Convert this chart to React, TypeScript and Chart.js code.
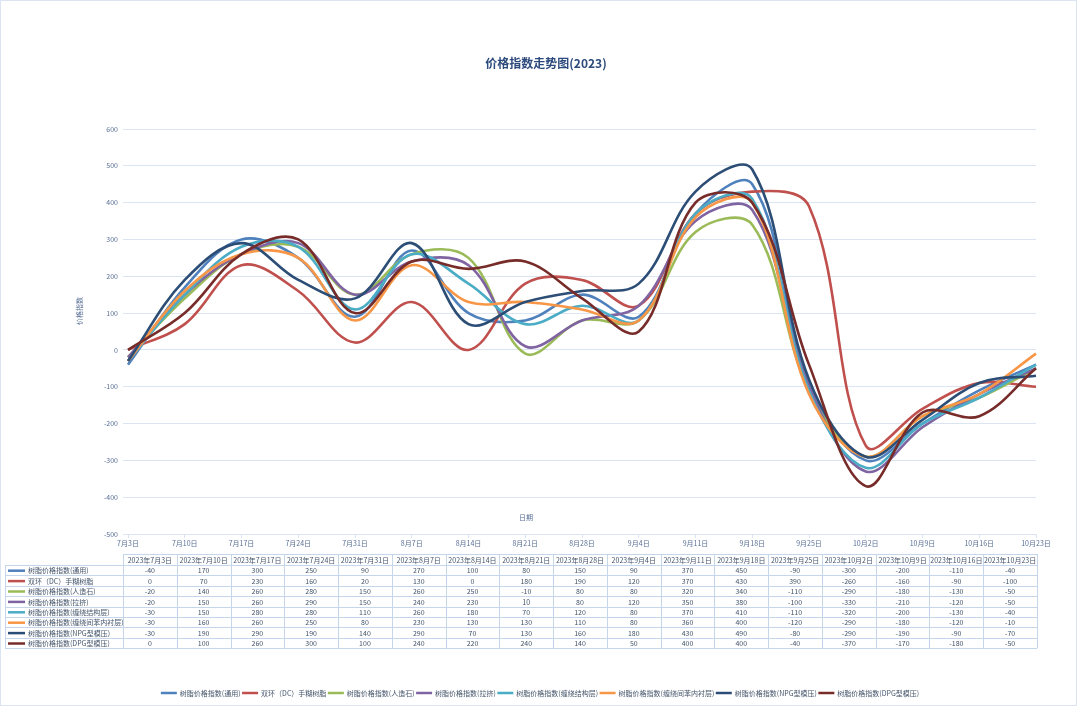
import React, { useEffect, useRef } from "react";
import { Chart, registerables } from "chart.js";

Chart.register(...registerables);

const chartTitle = "价格指数走势图(2023)";
const yTitle = "价格指数";
const xTitle = "日期";

const categories = [
  "7月3日", "7月10日", "7月17日", "7月24日", "7月31日", "8月7日", "8月14日", "8月21日",
  "8月28日", "9月4日", "9月11日", "9月18日", "9月25日", "10月2日", "10月9日", "10月16日", "10月23日",
];
const tableHeaders = categories.map((c) => "2023年" + c);

const seriesNames = [
  "树脂价格指数(通用)",
  "双环（DC）手糊树脂",
  "树脂价格指数(人造石)",
  "树脂价格指数(拉挤)",
  "树脂价格指数(缠绕结构层)",
  "树脂价格指数(缠绕间苯内衬层)",
  "树脂价格指数(NPG型模压)",
  "树脂价格指数(DPG型模压)",
];

const generalValues = [-40, 170, 300, 250, 90, 270, 100, 80, 150, 90, 370, 450, -90, -300, -200, -110, -40];
const dcValues = [0, 70, 230, 160, 20, 130, 0, 180, 190, 120, 370, 430, 390, -260, -160, -90, -100];
const stoneValues = [-20, 140, 260, 280, 150, 260, 250, -10, 80, 80, 320, 340, -110, -290, -180, -130, -50];
const pultrusionValues = [-20, 150, 260, 290, 150, 240, 230, 10, 80, 120, 350, 380, -100, -330, -210, -120, -50];
const windingStructValues = [-30, 150, 280, 280, 110, 260, 180, 70, 120, 80, 370, 410, -110, -320, -200, -130, -40];
const windingLinerValues = [-30, 160, 260, 250, 80, 230, 130, 130, 110, 80, 360, 400, -120, -290, -180, -120, -10];
const npgValues = [-30, 190, 290, 190, 140, 290, 70, 130, 160, 180, 430, 490, -80, -290, -190, -90, -70];
const dpgValues = [0, 100, 260, 300, 100, 240, 220, 240, 140, 50, 400, 400, -40, -370, -170, -180, -50];

const seriesValues = [
  generalValues, dcValues, stoneValues, pultrusionValues,
  windingStructValues, windingLinerValues, npgValues, dpgValues,
];

const seriesColors = ["#4f81bd", "#c0504d", "#9bbb59", "#8064a2", "#4bacc6", "#f79646", "#2c4d75", "#772c2a"];

const yTicks = { min: -500, max: 600, step: 100 };

const FONT = '"Noto Sans CJK SC", "Noto Sans", sans-serif';
const GRID = "#dbe5f1";
const TABLE_BORDER = "#c6d6ea";
const AXIS_TEXT = "#5a6f96";
const TABLE_TEXT = "#44546a";

const decorPlugin = {
  id: "decor",
  afterDraw(chart: any) {
    const ctx: CanvasRenderingContext2D = chart.ctx;
    ctx.save();

    // chart area border
    ctx.strokeStyle = GRID;
    ctx.lineWidth = 1;
    ctx.strokeRect(0.5, 0.5, 1076, 705);

    // title
    ctx.fillStyle = "#2c4a7c";
    ctx.font = `bold 12px ${FONT}`;
    ctx.textAlign = "center";
    ctx.textBaseline = "middle";
    ctx.fillText(chartTitle, 546, 63);

    // y title
    ctx.save();
    ctx.translate(79, 311);
    ctx.rotate(-Math.PI / 2);
    ctx.font = `7px ${FONT}`;
    ctx.fillStyle = AXIS_TEXT;
    ctx.fillText(yTitle, 0, 0);
    ctx.restore();

    // x title
    ctx.font = `7px ${FONT}`;
    ctx.fillStyle = AXIS_TEXT;
    ctx.fillText(xTitle, 526, 517);

    // data table
    const x0 = 123;
    const x1 = 1037;
    const lx = 5;
    const cw = (x1 - x0) / tableHeaders.length;
    const hTop = 554;
    const hBot = 565;
    const rh = 10.4;
    const tBot = hBot + rh * seriesNames.length;

    ctx.strokeStyle = TABLE_BORDER;
    ctx.lineWidth = 1;
    ctx.beginPath();
    ctx.moveTo(x0, hTop + 0.5);
    ctx.lineTo(x1, hTop + 0.5);
    for (let r = 0; r <= seriesNames.length; r++) {
      const y = Math.round(hBot + r * rh) + 0.5;
      ctx.moveTo(lx, y);
      ctx.lineTo(x1, y);
    }
    ctx.moveTo(lx + 0.5, hBot);
    ctx.lineTo(lx + 0.5, tBot);
    for (let c = 0; c <= tableHeaders.length; c++) {
      const x = Math.round(x0 + c * cw) + 0.5;
      ctx.moveTo(x, hTop);
      ctx.lineTo(x, tBot);
    }
    ctx.stroke();

    ctx.font = `7px ${FONT}`;
    ctx.fillStyle = TABLE_TEXT;
    ctx.textAlign = "center";
    ctx.textBaseline = "middle";
    tableHeaders.forEach((h, c) => {
      ctx.fillText(h, x0 + (c + 0.5) * cw, (hTop + hBot) / 2 + 0.5);
    });
    seriesNames.forEach((name, r) => {
      const yc = hBot + (r + 0.5) * rh + 0.5;
      ctx.strokeStyle = seriesColors[r];
      ctx.lineWidth = 2.5;
      ctx.beginPath();
      ctx.moveTo(8, yc);
      ctx.lineTo(25, yc);
      ctx.stroke();
      ctx.fillStyle = TABLE_TEXT;
      ctx.textAlign = "left";
      ctx.fillText(name, 28, yc);
      ctx.textAlign = "center";
      seriesValues[r].forEach((v, c) => {
        ctx.fillText(String(v), x0 + (c + 0.5) * cw, yc);
      });
    });

    // bottom legend
    const ly = 693;
    const lineW = 16;
    const gap1 = 3;
    const gap2 = 1.5;
    ctx.font = `7px ${FONT}`;
    const widths = seriesNames.map((n) => ctx.measureText(n).width);
    const total = widths.reduce((a, w) => a + lineW + gap1 + w, 0) + gap2 * (seriesNames.length - 1);
    let x = 540 - total / 2;
    seriesNames.forEach((name, i) => {
      ctx.strokeStyle = seriesColors[i];
      ctx.lineWidth = 2.5;
      ctx.beginPath();
      ctx.moveTo(x, ly);
      ctx.lineTo(x + lineW, ly);
      ctx.stroke();
      x += lineW + gap1;
      ctx.fillStyle = TABLE_TEXT;
      ctx.textAlign = "left";
      ctx.fillText(name, x, ly);
      x += widths[i] + gap2;
    });

    ctx.restore();
  },
};

export default function App() {
  const canvasRef = useRef<HTMLCanvasElement | null>(null);

  useEffect(() => {
    document.body.style.margin = "0";
    const canvas = canvasRef.current;
    if (!canvas) return;
    const chart = new Chart(canvas, {
      type: "line",
      data: {
        labels: categories,
        datasets: seriesNames.map((name, i) => ({
          label: name,
          data: seriesValues[i],
          borderColor: seriesColors[i],
          backgroundColor: seriesColors[i],
          borderWidth: 2.6,
          pointRadius: 0,
          tension: 0.36,
          fill: false,
          order: seriesNames.length - i,
        })),
      },
      options: {
        responsive: false,
        animation: false,
        devicePixelRatio: window.devicePixelRatio || 1,
        layout: { padding: { top: 129, left: 0, right: 44, bottom: 148 } },
        plugins: {
          legend: { display: false },
          title: { display: false },
          tooltip: { enabled: false },
        },
        scales: {
          x: {
            type: "category",
            offset: false,
            afterFit: (s: any) => {
              s.height = 24;
            },
            grid: {
              drawOnChartArea: false,
              drawTicks: true,
              tickLength: 4,
              color: GRID,
            },
            border: { display: true, color: GRID, width: 1 },
            ticks: {
              autoSkip: false,
              maxRotation: 0,
              minRotation: 0,
              padding: 1,
              color: AXIS_TEXT,
              font: { family: FONT, size: 7 },
            },
          },
          y: {
            min: yTicks.min,
            max: yTicks.max,
            afterFit: (s: any) => {
              s.width = 128;
            },
            grid: {
              color: GRID,
              drawTicks: true,
              tickLength: 5,
            },
            border: { display: false },
            ticks: {
              stepSize: yTicks.step,
              padding: 5,
              color: AXIS_TEXT,
              font: { family: FONT, size: 7 },
            },
          },
        },
      },
      plugins: [decorPlugin],
    });
    return () => chart.destroy();
  }, []);

  return (
    <div style={{ position: "absolute", left: 0, top: 0, width: 1080, height: 706, background: "#fff" }}>
      <canvas ref={canvasRef} width={1080} height={706} style={{ width: 1080, height: 706, display: "block" }} />
    </div>
  );
}
